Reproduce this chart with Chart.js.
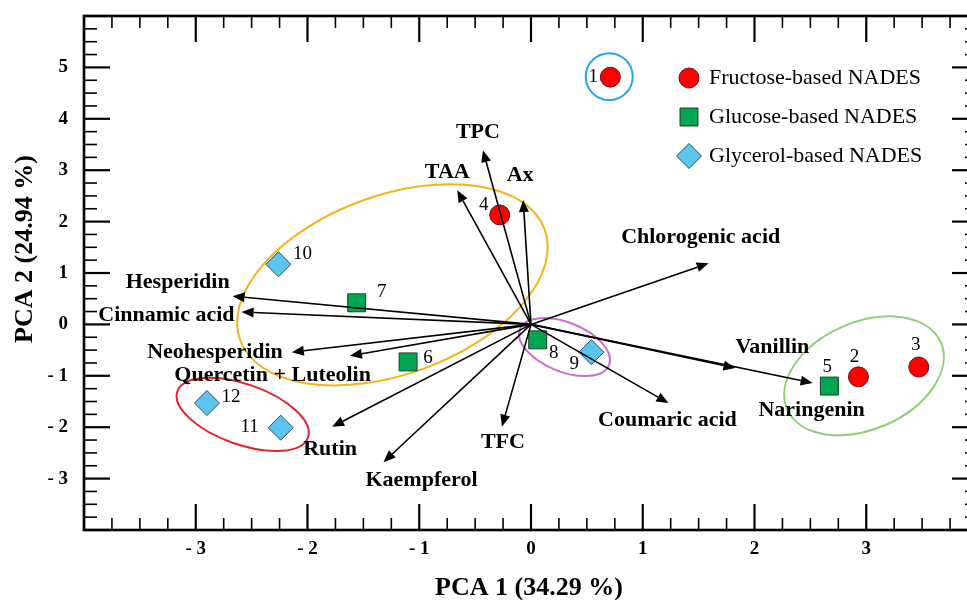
<!DOCTYPE html>
<html>
<head>
<meta charset="utf-8">
<script src="https://cdn.jsdelivr.net/npm/chart.js@4.4.1/dist/chart.umd.min.js"></script>
<style>
    html, body { margin: 0; padding: 0; background: #fff; overflow: hidden; }
    #wrap { width: 980px; height: 600px; }
</style>
</head>
<body>
<div id="wrap"><canvas id="grafico" width="980" height="600"></canvas></div>
<script>
// muestras (scores PCA1 / PCA2)
const fructosaNum = ["1", "2", "3", "4"];
const fructosaX = [0.71, 2.93, 3.47, -0.28];
const fructosaY = [4.81, -1.02, -0.83, 2.13];

const glucosaNum = ["5", "6", "7", "8"];
const glucosaX = [2.67, -1.10, -1.56, 0.06];
const glucosaY = [-1.20, -0.73, 0.42, -0.30];

const glicerolNum = ["9", "10", "11", "12"];
const glicerolX = [0.54, -2.26, -2.24, -2.90];
const glicerolY = [-0.54, 1.17, -2.01, -1.53];

// variables (loadings)
const variables = ["TPC", "TAA", "Ax", "Chlorogenic acid", "Hesperidin", "Cinnamic acid", "Neohesperidin",
    "Quercetin + Luteolin", "Rutin", "Kaempferol", "TFC", "Coumaric acid", "Vanillin", "Naringenin"];
const cargaX = [-0.43, -0.66, -0.07, 1.59, -2.67, -2.59, -2.14, -1.62, -1.78, -1.32, -0.26, 1.23, 1.83, 2.52];
const cargaY = [3.39, 2.61, 2.42, 1.19, 0.55, 0.24, -0.54, -0.61, -1.99, -2.68, -1.99, -1.53, -0.85, -1.14];

// elipses de agrupamiento (centro, semiejes en unidades de PCA 1, angulo)
const elipseCx = [-1.24, -2.58, 0.30, 2.98, 0.70];
const elipseCy = [0.77, -1.75, -0.44, -1.00, 4.82];
const elipseA = [1.45, 0.62, 0.43, 0.75, 0.21];
const elipseB = [0.80, 0.27, 0.22, 0.48, 0.21];
const elipseAng = [-20, 19.5, 22, -23.4, 0];

const xTicks = [-3, -2, -1, 0, 1, 2, 3];
const yTicks = [-3, -2, -1, 0, 1, 2, 3, 4, 5];

const tituloX = "PCA 1 (34.29 %)";
const tituloY = "PCA 2 (24.94 %)";

// estilos / posiciones de etiquetas (px)
const FUENTE = "'Liberation Serif', 'Times New Roman', serif";
const colorElipse = ["#f2b418", "#e2232a", "#cc6fd5", "#8fd072", "#29a9e0"];
const posNum = {
    "1": [-17, 0], "2": [-4, -20], "3": [-3, -22], "4": [-16, -10],
    "5": [-2, -19], "6": [20, -4], "7": [25, -11], "8": [16, 13],
    "9": [-17, 12], "10": [24, -10], "11": [-31, -1], "12": [24, -6]
};
const posVariable = [
    [-5, -18, "center"], [-10, -18, "center"], [-3, -25, "center"], [-8, -26, "center"],
    [-3, -14, "right"], [-7, 3, "right"], [-9, 0, "right"], [21, 20, "right"],
    [-2, 23, "center"], [-18, 18, "left"], [1, 16, "center"], [-1, 17, "center"],
    [0, -21, "left"], [-1, 27, "center"]
];

function puntos(xs, ys) {
    return xs.map((x, i) => ({ x: x, y: ys[i] }));
}

function fmtTick(v) {
    return v < 0 ? "- " + Math.abs(v) : String(v);
}

// 🔥 marco con ticks hacia adentro en los cuatro lados
const marcoPlugin = {
    id: "marco",
    beforeDatasetsDraw(chart) {
        const { ctx, chartArea: a, scales: { x, y } } = chart;
        ctx.save();
        ctx.strokeStyle = "#000";
        const linea = (x1, y1, x2, y2) => {
            ctx.beginPath();
            ctx.moveTo(x1, y1);
            ctx.lineTo(x2, y2);
            ctx.stroke();
        };
        for (let k = -16; k <= 16; k++) {
            const px = x.getPixelForValue(k / 4);
            const mayor = k % 4 === 0;
            const len = mayor ? 26 : 12;
            ctx.lineWidth = mayor ? 2.2 : 1.6;
            linea(px, a.bottom, px, a.bottom - len);
            linea(px, a.top, px, a.top + len);
        }
        for (let k = -16; k <= 24; k++) {
            const py = y.getPixelForValue(k / 4);
            const mayor = k % 4 === 0;
            const len = mayor ? 26 : 13;
            ctx.lineWidth = mayor ? 2.2 : 1.6;
            linea(a.left, py, a.left + len, py);
            linea(a.right, py, a.right - len, py);
        }
        ctx.lineWidth = 2.6;
        ctx.strokeRect(a.left, a.top, a.right - a.left, a.bottom - a.top);

        // elipses
        const ppu = x.getPixelForValue(1) - x.getPixelForValue(0);
        elipseCx.forEach((cx, i) => {
            ctx.beginPath();
            ctx.ellipse(x.getPixelForValue(cx), y.getPixelForValue(elipseCy[i]),
                elipseA[i] * ppu, elipseB[i] * ppu, elipseAng[i] * Math.PI / 180, 0, Math.PI * 2);
            ctx.strokeStyle = colorElipse[i];
            ctx.lineWidth = 2;
            ctx.stroke();
        });
        ctx.restore();
    },
    afterDatasetsDraw(chart) {
        const { ctx, scales: { x, y } } = chart;
        ctx.save();
        // flechas de las variables
        const x0 = x.getPixelForValue(0), y0 = y.getPixelForValue(0);
        ctx.strokeStyle = "#000";
        ctx.fillStyle = "#000";
        ctx.lineWidth = 1.6;
        variables.forEach((nombre, i) => {
            const tx = x.getPixelForValue(cargaX[i]);
            const ty = y.getPixelForValue(cargaY[i]);
            const ang = Math.atan2(ty - y0, tx - x0);
            const lh = 12, wh = 5;
            const bx = tx - lh * Math.cos(ang), by = ty - lh * Math.sin(ang);
            ctx.beginPath();
            ctx.moveTo(x0, y0);
            ctx.lineTo(bx, by);
            ctx.stroke();
            ctx.beginPath();
            ctx.moveTo(tx, ty);
            ctx.lineTo(bx + wh * Math.sin(ang), by - wh * Math.cos(ang));
            ctx.lineTo(bx - wh * Math.sin(ang), by + wh * Math.cos(ang));
            ctx.closePath();
            ctx.fill();

            const p = posVariable[i];
            ctx.font = "bold 22px " + FUENTE;
            ctx.textAlign = p[2];
            ctx.textBaseline = "middle";
            ctx.fillText(nombre, tx + p[0], ty + p[1]);
        });

        // numeros de muestra
        ctx.font = "19px " + FUENTE;
        ctx.textAlign = "center";
        ctx.textBaseline = "middle";
        chart.data.datasets.forEach((ds, di) => {
            const meta = chart.getDatasetMeta(di);
            meta.data.forEach((el, j) => {
                const n = ds.numeros[j];
                const o = posNum[n];
                ctx.fillText(n, el.x + o[0], el.y + o[1]);
            });
        });
        ctx.restore();

        // titulos de ejes
        ctx.save();
        ctx.fillStyle = "#000";
        ctx.font = "bold 26px " + FUENTE;
        ctx.textAlign = "center";
        ctx.textBaseline = "middle";
        ctx.fillText(tituloX, 529, 588);
        ctx.translate(25, 249);
        ctx.rotate(-Math.PI / 2);
        ctx.fillText(tituloY, 0, 0);
        ctx.restore();
    }
};

// leyenda dibujada aparte para controlar posicion
const leyendaPlugin = {
    id: "leyenda",
    afterDraw(chart) {
        const { ctx } = chart;
        const filas = [78, 117, 156];
        ctx.save();
        chart.data.datasets.forEach((ds, di) => {
            ctx.fillStyle = ds.backgroundColor;
            ctx.strokeStyle = ds.borderColor;
            ctx.lineWidth = ds.borderWidth;
            Chart.helpers.drawPoint(ctx, {
                pointStyle: ds.pointStyle, radius: ds.pointRadius, rotation: 0,
                borderWidth: ds.borderWidth
            }, 689, filas[di]);
            ctx.fillStyle = "#000";
            ctx.font = "22px " + FUENTE;
            ctx.textAlign = "left";
            ctx.textBaseline = "middle";
            ctx.fillText(ds.label, 709, filas[di]);
        });
        ctx.restore();
    }
};

const fuenteTick = { family: FUENTE, size: 19, weight: "bold" };

new Chart(document.getElementById("grafico"), {
    type: "scatter",
    data: {
        datasets: [
            {
                label: "Fructose-based NADES",
                numeros: fructosaNum,
                data: puntos(fructosaX, fructosaY),
                pointStyle: "circle",
                pointRadius: 10,
                backgroundColor: "#ff0000",
                borderColor: "#5a1a1a",
                borderWidth: 1
            },
            {
                label: "Glucose-based NADES",
                numeros: glucosaNum,
                data: puntos(glucosaX, glucosaY),
                pointStyle: "rect",
                pointRadius: 12.7,
                backgroundColor: "#00a651",
                borderColor: "#1f3d2a",
                borderWidth: 1
            },
            {
                label: "Glycerol-based NADES",
                numeros: glicerolNum,
                data: puntos(glicerolX, glicerolY),
                pointStyle: "rectRot",
                pointRadius: 12.5,
                backgroundColor: "#5bc5f0",
                borderColor: "#2b4a5c",
                borderWidth: 1
            }
        ]
    },
    options: {
        responsive: false,
        animation: false,
        layout: { autoPadding: false, padding: { top: 16, right: 2, left: 0, bottom: 0 } },
        plugins: {
            legend: { display: false },
            tooltip: { enabled: false }
        },
        scales: {
            x: {
                type: "linear",
                min: -4,
                max: 4,
                grid: { display: false, drawTicks: false },
                border: { display: false },
                afterFit: s => {
                    s.height = 70;
                    s.paddingLeft = 0;
                    s.paddingRight = 0;
                },
                afterBuildTicks: s => { s.ticks = xTicks.map(v => ({ value: v })); },
                ticks: { callback: fmtTick, font: fuenteTick, color: "#000", padding: 8, maxRotation: 0, autoSkip: false }
            },
            y: {
                type: "linear",
                min: -4,
                max: 6,
                grid: { display: false, drawTicks: false },
                border: { display: false },
                afterFit: s => {
                    s.width = 84;
                    s.paddingTop = 0;
                    s.paddingBottom = 0;
                },
                afterBuildTicks: s => { s.ticks = yTicks.map(v => ({ value: v })); },
                ticks: { callback: fmtTick, font: fuenteTick, color: "#000", padding: 16, autoSkip: false }
            }
        }
    },
    plugins: [marcoPlugin, leyendaPlugin]
});
</script>
</body>
</html>
